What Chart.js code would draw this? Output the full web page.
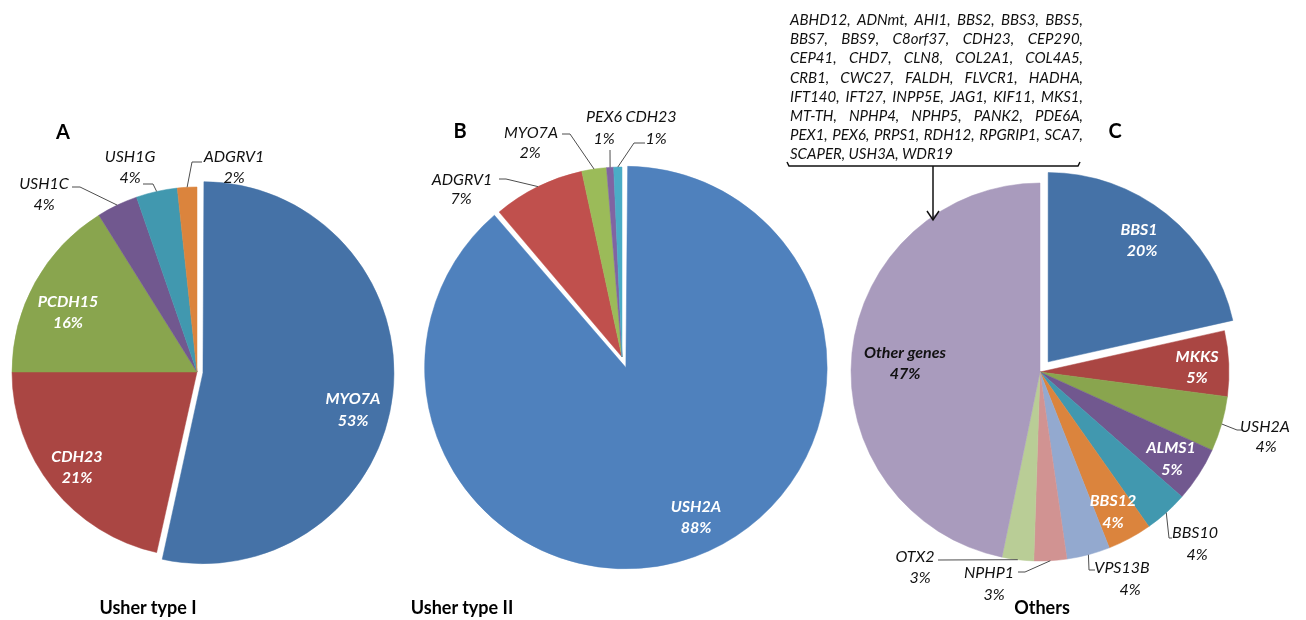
<!DOCTYPE html>
<html>
<head>
<meta charset="utf-8">
<title>Usher gene distribution</title>
<script src="https://cdn.jsdelivr.net/npm/chart.js@4.4.0/dist/chart.umd.min.js"></script>
<style>
  html, body { margin: 0; padding: 0; background: #fff; }
  #stage { position: relative; width: 1306px; height: 620px; overflow: hidden;
           font-family: Lato, 'Open Sans', sans-serif; color: #000; }
  #stage canvas { position: absolute; left: 0; top: 0; }
  .letter { position: absolute; font-weight: bold; font-size: 20px; transform: translate(-50%, -50%); }
  .title { position: absolute; font-weight: bold; font-size: 18px; white-space: nowrap; transform: translate(-50%, -50%); }
  #geneList { position: absolute; left: 790px; top: 10px; width: 293px;
              font-style: italic; font-size: 15px; color: #111; }
  #geneList .row { height: 19.2px; line-height: 19.2px; display: flex; justify-content: space-between; white-space: nowrap; }
  #geneList .row.last { justify-content: flex-start; }
</style>
</head>
<body>
<div id="stage">
  <canvas id="pieA" width="1306" height="620"></canvas>
  <canvas id="pieB" width="1306" height="620"></canvas>
  <canvas id="pieC" width="1306" height="620"></canvas>
  <div class="letter" style="left:63px;top:131px">A</div>
  <div class="letter" style="left:460px;top:130px">B</div>
  <div class="letter" style="left:1115px;top:130px">C</div>
  <div class="title" style="left:148px;top:607px">Usher type I</div>
  <div class="title" style="left:462px;top:607px">Usher type II</div>
  <div class="title" style="left:1042px;top:607px">Others</div>
  <div id="geneList"></div>
</div>
<script>
// --- データ ---
// A: Usher type I
var typeILabels = ['MYO7A', 'CDH23', 'PCDH15', 'USH1C', 'USH1G', 'ADGRV1'];
var typeIValues = [53.5, 21.5, 16.1, 3.6, 3.6, 1.7];
var typeIPct = ['53%', '21%', '16%', '4%', '4%', '2%'];

// B: Usher type II
var typeIILabels = ['USH2A', 'ADGRV1', 'MYO7A', 'PEX6', 'CDH23'];
var typeIIValues = [88.9, 7.8, 2.1, 0.6, 0.7];
var typeIIPct = ['88%', '7%', '2%', '1%', '1%'];

// C: Others
var othersLabels = ['BBS1', 'MKKS', 'USH2A', 'ALMS1', 'BBS10', 'BBS12', 'VPS13B', 'NPHP1', 'OTX2', 'Other genes'];
var othersValues = [21.5, 5.6, 4.7, 4.7, 3.75, 3.8, 3.7, 2.8, 2.7, 46.8];
var othersPct = ['20%', '5%', '4%', '5%', '4%', '4%', '4%', '3%', '3%', '47%'];

// "Other genes" の内訳
var otherGenesRows = [
  'ABHD12, ADNmt, AHI1, BBS2, BBS3, BBS5,',
  'BBS7, BBS9, C8orf37, CDH23, CEP290,',
  'CEP41, CHD7, CLN8, COL2A1, COL4A5,',
  'CRB1, CWC27, FALDH, FLVCR1, HADHA,',
  'IFT140, IFT27, INPP5E, JAG1, KIF11, MKS1,',
  'MT-TH, NPHP4, NPHP5, PANK2, PDE6A,',
  'PEX1, PEX6, PRPS1, RDH12, RPGRIP1, SCA7,',
  'SCAPER, USH3A, WDR19'
];

// --- スタイル ---
var darkPalette = ['#4572A7', '#AA4643', '#89A54E', '#71588F', '#4198AF', '#DB843D', '#93A9CF', '#D19392', '#B9CD96', '#A99BBD'];
var lightPalette = ['#4F81BD', '#C0504D', '#9BBB59', '#8064A2', '#4BACC6'];
var FONT = "Lato, 'Open Sans', sans-serif";

// ラベル配置（ページ座標）: inside=内側ラベル, line=引き出し線の折れ点
var typeIPlaces = [
  { inside: true, name: [353, 399], pct: [353, 421] },
  { inside: true, name: [77, 457], pct: [77, 478] },
  { inside: true, name: [68, 302], pct: [68, 323] },
  { name: [44, 184], pct: [44, 205], line: [[72, 187], [80, 187]] },
  { name: [130, 157], pct: [130, 178], line: [[143, 184], [153, 184]] },
  { name: [234, 157], pct: [234, 178], line: [[202, 162], [192, 162]] }
];
var typeIIPlaces = [
  { inside: true, name: [696, 507], pct: [696, 528] },
  { name: [462, 180], pct: [461, 199], line: [[499, 179], [506, 179]] },
  { name: [531, 133], pct: [530, 153], line: [[562, 134], [570, 134]] },
  { name: [604, 117], pct: [604, 139], line: [[610, 150]] },
  { name: [651, 117], pct: [656, 139], line: [[645, 143], [634, 143]] }
];
var othersPlaces = [
  { inside: true, name: [1139, 230], pct: [1142, 251] },
  { inside: true, name: [1197, 357], pct: [1197, 378] },
  { name: [1265, 427], pct: [1266, 447], line: [[1242, 430], [1237, 430]] },
  { inside: true, name: [1171, 448], pct: [1172, 470] },
  { name: [1195, 533], pct: [1197, 555], line: [[1172, 538], [1169, 538]] },
  { inside: true, name: [1113, 501], pct: [1113, 523] },
  { name: [1122, 568], pct: [1130, 590], line: [[1095, 570], [1089, 570]] },
  { name: [989, 573], pct: [994, 595], line: [[1018, 572], [1025, 572]] },
  { name: [915, 557], pct: [920, 578], line: [[938, 560]] },
  { inside: true, dark: true, name: [905, 353], pct: [905, 374] }
];

// データラベル＋引き出し線を描くプラグイン
var pieLabelPlugin = {
  id: 'pieLabels',
  afterDatasetsDraw: function(chart, args, opts) {
    var ctx = chart.ctx;
    var meta = chart.getDatasetMeta(0);
    var names = chart.data.labels;
    ctx.save();
    ctx.textAlign = 'center';
    ctx.textBaseline = 'middle';
    meta.data.forEach(function(arc, i) {
      var p = opts.places[i];
      if (!p) return;
      if (p.inside) {
        ctx.font = 'italic bold 16px ' + FONT;
        ctx.fillStyle = p.dark ? '#111' : '#fff';
      } else {
        // 引き出し線: 折れ点 → 扇形の外周（中央角）
        var mid = (arc.startAngle + arc.endAngle) / 2;
        var ex = arc.x + Math.cos(mid) * arc.outerRadius;
        var ey = arc.y + Math.sin(mid) * arc.outerRadius;
        ctx.beginPath();
        ctx.moveTo(p.line[0][0], p.line[0][1]);
        for (var k = 1; k < p.line.length; k++) ctx.lineTo(p.line[k][0], p.line[k][1]);
        ctx.lineTo(ex, ey);
        ctx.strokeStyle = '#4d4d4d';
        ctx.lineWidth = 1;
        ctx.stroke();
        ctx.font = 'italic 16px ' + FONT;
        ctx.fillStyle = '#111';
      }
      ctx.fillText(names[i], p.name[0], p.name[1]);
      ctx.fillText(opts.pct[i], p.pct[0], p.pct[1]);
    });
    if (opts.bracket) {
      // 内訳リストの括弧と矢印
      ctx.strokeStyle = '#111';
      ctx.lineWidth = 1.5;
      ctx.beginPath();
      ctx.moveTo(787, 162); ctx.lineTo(789, 166); ctx.lineTo(1078, 166); ctx.lineTo(1080, 162);
      ctx.stroke();
      ctx.beginPath();
      ctx.moveTo(933, 166); ctx.lineTo(933, 219);
      ctx.stroke();
      ctx.beginPath();
      ctx.moveTo(927, 211); ctx.lineTo(933, 220); ctx.lineTo(939, 211);
      ctx.stroke();
    }
    ctx.restore();
  }
};

function makePie(id, cx, cy, radius, labels, values, colors, offsets, places, pct, bracket) {
  var s = 100;
  return new Chart(document.getElementById(id), {
    type: 'pie',
    data: {
      labels: labels,
      datasets: [{
        data: values,
        backgroundColor: colors.slice(0, values.length),
        borderColor: colors.slice(0, values.length),
        borderWidth: 0.5,
        offset: offsets,
        radius: radius
      }]
    },
    options: {
      responsive: false,
      animation: false,
      events: [],
      layout: { padding: { left: cx - s, right: 1306 - cx - s, top: cy - s, bottom: 620 - cy - s } },
      plugins: {
        legend: { display: false },
        tooltip: { enabled: false },
        pieLabels: { places: places, pct: pct, bracket: bracket }
      }
    },
    plugins: [pieLabelPlugin]
  });
}

makePie('pieA', 197, 372, 185, typeILabels, typeIValues, darkPalette, [24, 0, 0, 0, 0, 0], typeIPlaces, typeIPct, false);
makePie('pieB', 622, 357, 190, typeIILabels, typeIIValues, lightPalette, [45, 0, 0, 0, 0], typeIIPlaces, typeIIPct, false);
makePie('pieC', 1040, 372, 189, othersLabels, othersValues, darkPalette, [52, 0, 0, 0, 0, 0, 0, 0, 0, 0], othersPlaces, othersPct, true);

// 内訳リスト（両端揃え）
var list = document.getElementById('geneList');
otherGenesRows.forEach(function(row, i) {
  var div = document.createElement('div');
  var isLast = (i === otherGenesRows.length - 1);
  div.className = 'row' + (isLast ? ' last' : '');
  if (isLast) {
    div.textContent = row;
  } else {
    row.split(' ').forEach(function(word) {
      var span = document.createElement('span');
      span.textContent = word;
      div.appendChild(span);
    });
  }
  list.appendChild(div);
});
</script>
</body>
</html>
